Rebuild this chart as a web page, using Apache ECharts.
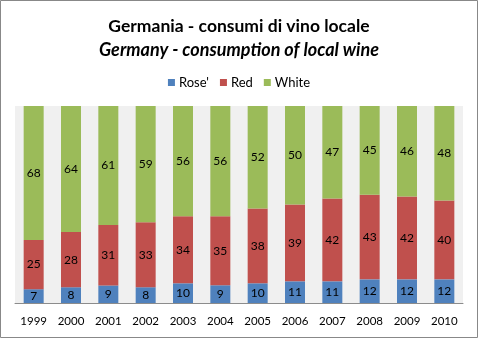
<!DOCTYPE html>
<html>
<head>
<meta charset="utf-8">
<script src="https://cdn.jsdelivr.net/npm/echarts@6/dist/echarts.min.js"></script>
<style>
  html, body { margin: 0; padding: 0; background: #fff; }
  #chart { width: 478px; height: 338px; }
</style>
</head>
<body>
<div id="chart"></div>
<script>
// Consumption of local wine in Germany, shares by wine type (%)
const years = ['1999', '2000', '2001', '2002', '2003', '2004', '2005', '2006', '2007', '2008', '2009', '2010'];
const rose  = [7, 8, 9, 8, 10, 9, 10, 11, 11, 12, 12, 12];
const red   = [25, 28, 31, 33, 34, 35, 38, 39, 42, 43, 42, 40];
const white = [68, 64, 61, 59, 56, 56, 52, 50, 47, 45, 46, 48];

const FONT = 'Lato, "Open Sans", sans-serif';

// 100% stacked: each bar is scaled to the yearly total, labels keep the stated values
const totals = years.map((_, i) => rose[i] + red[i] + white[i]);
function shareSeries(arr) {
  return arr.map((v, i) => ({ value: v * 100 / totals[i], raw: v }));
}

function series(name, arr, color) {
  return {
    name: name,
    type: 'bar',
    stack: 'total',
    barWidth: 20,
    data: shareSeries(arr),
    itemStyle: { color: color },
    label: {
      show: true,
      position: 'inside',
      color: '#000',
      fontFamily: FONT,
      fontSize: 12,
      formatter: p => String(p.data.raw)
    }
  };
}

const chart = echarts.init(document.getElementById('chart'), null, { renderer: 'canvas' });
chart.setOption({
  animation: false,
  backgroundColor: '#fff',
  title: [
    {
      text: 'Germania - consumi di vino locale',
      left: 'center', top: 12,
      textStyle: { fontFamily: FONT, fontSize: 17.5, fontWeight: 'bold', color: '#000' }
    },
    {
      text: 'Germany - consumption of local wine',
      left: 'center', top: 36,
      textStyle: { fontFamily: FONT, fontSize: 18, fontWeight: 'bold', fontStyle: 'italic', color: '#000' }
    }
  ],
  legend: {
    top: 71, left: 'center',
    itemWidth: 7, itemHeight: 7, itemGap: 11,
    icon: 'rect',
    textStyle: { fontFamily: FONT, fontSize: 13, color: '#000', padding: [0, 0, 0, -1] },
    data: ["Rose'", 'Red', 'White']
  },
  grid: {
    left: 15, right: 15, top: 106, bottom: 35,
    show: true, backgroundColor: '#f0f0f0', borderWidth: 0
  },
  xAxis: {
    type: 'category',
    data: years,
    axisLine: { lineStyle: { color: '#8c8c8c' } },
    axisTick: { show: false },
    axisLabel: { fontFamily: FONT, fontSize: 11.5, color: '#000', margin: 12 }
  },
  yAxis: {
    type: 'value', min: 0, max: 100,
    show: false,
    splitLine: { show: false }
  },
  series: [
    series("Rose'", rose, '#4f81bd'),
    series('Red', red, '#c0504d'),
    series('White', white, '#9bbb59')
  ],
  graphic: [{
    type: 'rect',
    shape: { x: 0.5, y: 0.5, width: 477, height: 337 },
    style: { fill: null, stroke: '#888', lineWidth: 1 },
    silent: true
  }]
});
</script>
</body>
</html>
